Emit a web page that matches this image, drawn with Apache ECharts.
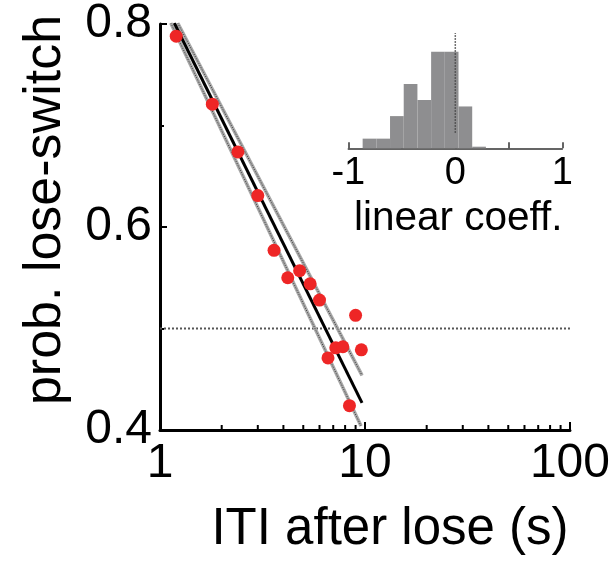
<!DOCTYPE html>
<html>
<head>
<meta charset="utf-8">
<script src="https://cdn.jsdelivr.net/npm/echarts@6/dist/echarts.min.js"></script>
<style>
  html, body { margin: 0; padding: 0; background: #fff; overflow: hidden; }
  #chart { width: 613px; height: 564px; }
</style>
</head>
<body>
<div id="chart"></div>
<script>
// Inter-trial interval after a lose trial (s) and probability of switching
const itiSeconds = [1.2, 1.8, 2.4, 3.0, 3.6, 4.2, 4.8, 5.4, 6.0, 6.6, 7.2, 7.8, 8.4, 9.0, 9.6];
const pLoseSwitch = [0.788, 0.721, 0.674, 0.631, 0.577, 0.550, 0.557, 0.544, 0.528, 0.471, 0.481, 0.482, 0.424, 0.513, 0.479];

// Log-linear fit and its confidence bounds (end points, [ITI, prob])
const fitLine = [[1.174, 0.801], [9.674, 0.4267]];
const boundLower = [[1.129, 0.801], [9.567, 0.4039]];
const boundUpper = [[1.22, 0.801], [9.674, 0.4538]];
const chanceLevel = 0.5;

// Log-axis minor tick values
const xMinorTicks = [2, 3, 4, 5, 6, 7, 8, 9, 20, 30, 40, 50, 60, 70, 80, 90];
const xMajorLabels = [1, 10, 100];
const yLabels = [0.4, 0.6, 0.8];

// Inset: histogram of linear coefficients across sessions
const coeffBinStart = -0.866;
const coeffBinWidth = 0.128;
const coeffCounts = [3, 3, 10, 20, 15, 30, 30, 13, 0.5];
const zeroRefSpan = [4.8, 35.8];
const insetLabels = [-1, 0, 1];

const FONT = '"Liberation Sans", Arial, Helvetica, sans-serif';
const chart = echarts.init(document.getElementById('chart'), null, { renderer: 'canvas' });

const pointData = itiSeconds.map((x, i) => [x, pLoseSwitch[i]]);
const histData = coeffCounts.map((c, i) => [coeffBinStart + i * coeffBinWidth, c]);

function boundSeries(pts) {
  return [
    {
      type: 'line', xAxisIndex: 0, yAxisIndex: 0, data: pts, symbol: 'none', silent: true, z: 3,
      lineStyle: { color: '#a8a8a8', width: 3.5 }
    },
    {
      type: 'line', xAxisIndex: 0, yAxisIndex: 0, data: pts, symbol: 'none', silent: true, z: 4,
      lineStyle: { color: '#3a3a3a', width: 1, type: [1, 1.5] }
    }
  ];
}

const option = {
  animation: false,
  backgroundColor: '#fff',
  grid: [
    { left: 160, right: 37, top: 21, bottom: 134, containLabel: false },
    { left: 348.3, width: 214, top: 32.4, height: 115.9, containLabel: false }
  ],
  xAxis: [
    {
      type: 'log', logBase: 10, min: 1, max: 100, gridIndex: 0,
      name: 'ITI after lose (s)', nameLocation: 'middle', nameGap: 74,
      nameTextStyle: { fontFamily: FONT, fontSize: 51, color: '#000', padding: [0, 0, 0, 50] },
      axisLine: { show: true, onZero: false, lineStyle: { color: '#000', width: 3 } },
      axisTick: { show: true, inside: true, length: 8, lineStyle: { color: '#000', width: 2 } },
      axisLabel: {
        fontFamily: FONT, fontSize: 48, color: '#000', margin: 10,
        formatter: v => (xMajorLabels.indexOf(Math.round(v)) >= 0 ? String(Math.round(v)) : '')
      },
      splitLine: { show: false }
    },
    {
      type: 'value', min: -1, max: 1, interval: 0.5, gridIndex: 1,
      name: 'linear coeff.', nameLocation: 'middle', nameGap: 50,
      nameTextStyle: { fontFamily: FONT, fontSize: 40.5, color: '#000', padding: [0, 0, 0, 6] },
      axisLine: { show: true, onZero: false, lineStyle: { color: '#333', width: 1.5 } },
      axisTick: { show: true, inside: true, length: 6, lineStyle: { color: '#333', width: 1.5 } },
      axisLabel: {
        fontFamily: FONT, fontSize: 38, color: '#000', margin: 6,
        formatter: v => (insetLabels.indexOf(v) >= 0 ? String(v) : '')
      },
      splitLine: { show: false }
    }
  ],
  yAxis: [
    {
      type: 'value', min: 0.4, max: 0.8, interval: 0.2, gridIndex: 0,
      name: 'prob. lose-switch', nameLocation: 'middle', nameGap: 88,
      nameTextStyle: { fontFamily: FONT, fontSize: 52, color: '#000', padding: [0, 0, 0, 34] },
      axisLine: { show: true, onZero: false, lineStyle: { color: '#000', width: 3 } },
      axisTick: { show: true, inside: true, length: 7, lineStyle: { color: '#000', width: 2 } },
      minorTick: { show: true, splitNumber: 2, length: 4, lineStyle: { color: '#000', width: 2 } },
      axisLabel: {
        fontFamily: FONT, fontSize: 48, color: '#000', margin: 8,
        formatter: v => (yLabels.some(l => Math.abs(l - v) < 1e-9) ? v.toFixed(1) : '')
      },
      splitLine: { show: false }
    },
    {
      type: 'value', min: 0, max: 36, gridIndex: 1, show: false
    }
  ],
  series: [
    {
      type: 'line', xAxisIndex: 0, yAxisIndex: 0, symbol: 'none', silent: true, z: 2,
      data: [[1, chanceLevel], [100, chanceLevel]],
      lineStyle: { color: '#555', width: 2, type: [2, 2] }
    },
    ...boundSeries(boundLower),
    ...boundSeries(boundUpper),
    {
      type: 'line', xAxisIndex: 0, yAxisIndex: 0, data: fitLine, symbol: 'none', silent: true, z: 5,
      lineStyle: { color: '#000', width: 3 }
    },
    {
      type: 'scatter', xAxisIndex: 0, yAxisIndex: 0, data: pointData, z: 6,
      symbol: 'circle', symbolSize: 13,
      itemStyle: { color: '#ee2626', opacity: 1, borderWidth: 0 }
    },
    {
      // minor ticks on the log axis
      type: 'custom', xAxisIndex: 0, yAxisIndex: 0, silent: true, z: 7,
      data: xMinorTicks.map(v => [v, 0.4]),
      clip: false,
      renderItem: (params, api) => {
        const p = api.coord([api.value(0), api.value(1)]);
        return {
          type: 'line',
          shape: { x1: p[0], y1: p[1], x2: p[0], y2: p[1] - 5 },
          style: { stroke: '#000', lineWidth: 2 }
        };
      }
    },
    {
      // inset histogram bars
      type: 'custom', xAxisIndex: 1, yAxisIndex: 1, silent: true, z: 2,
      data: histData,
      renderItem: (params, api) => {
        const x0 = api.value(0);
        const c = api.value(1);
        const a = api.coord([x0, 0]);
        const b = api.coord([x0 + coeffBinWidth, c]);
        return {
          type: 'rect',
          shape: { x: a[0], y: b[1], width: b[0] - a[0], height: a[1] - b[1] },
          style: { fill: '#8e8e90' }
        };
      }
    },
    {
      type: 'line', xAxisIndex: 1, yAxisIndex: 1, symbol: 'none', silent: true, z: 3,
      data: [[0, zeroRefSpan[0]], [0, zeroRefSpan[1]]],
      lineStyle: { color: '#444', width: 1.5, type: [1.5, 1.5] }
    }
  ]
};

chart.setOption(option);
</script>
</body>
</html>
